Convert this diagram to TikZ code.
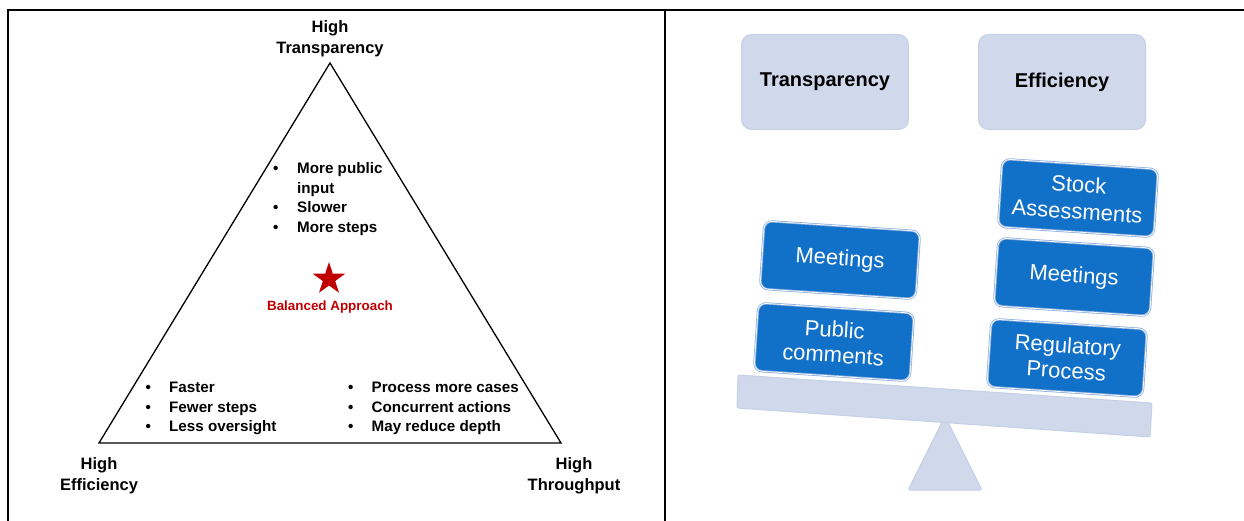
\documentclass[tikz,border=0pt]{standalone}
\usepackage{fontspec}
\setmainfont{Liberation Sans}
\usetikzlibrary{shapes.geometric}
\definecolor{boxblue}{HTML}{1170C8}
\definecolor{boxrim}{HTML}{8DB0E0}
\definecolor{pale}{HTML}{D0D8EB}
\definecolor{paleedge}{HTML}{C6D0E6}
\definecolor{starred}{HTML}{C00000}
\newcommand{\lstxfont}{\bfseries\fontsize{15.2}{19.5}\selectfont}
\begin{document}
\begin{tikzpicture}[x=1pt,y=-1pt,
  frameline/.style={line width=2pt, black},
  tri/.style={line width=1.3pt, black, line join=miter},
  corner/.style={anchor=base, inner sep=0pt, font=\bfseries\fontsize{16.5}{21}\selectfont},
  bullets/.style={anchor=base west, inner sep=0pt, font=\lstxfont},
  blk/.style={draw=boxrim, line width=0.8pt, double=white, double distance=0.7pt,
    fill=boxblue, rounded corners=8pt, minimum width=156pt, minimum height=68pt,
    inner sep=0pt, rotate=-3.8, text=white, align=center,
    font=\fontsize{22}{25.5}\selectfont},
  palebox/.style={draw=paleedge, line width=1pt, fill=pale, rounded corners=10pt,
    minimum width=167pt, minimum height=95pt, inner sep=0pt,
    font=\bfseries\fontsize{20}{24}\selectfont},
  paleshape/.style={draw=paleedge, line width=1pt, fill=pale, rounded corners=2pt}]
\useasboundingbox (0,0) rectangle (1244,521);
% frame
\coordinate (f1) at (6.5,10);
\coordinate (f2) at (1244,10);
\coordinate (f3) at (7.5,9);
\coordinate (f4) at (7.5,521);
\coordinate (f5) at (665,10);
\coordinate (f6) at (665,521);
\draw[frameline] (f1) -- (f2);
\draw[frameline] (f3) -- (f4);
\draw[frameline] (f5) -- (f6);
% triangle
\coordinate (tA) at (330,63);
\coordinate (tB) at (99,443);
\coordinate (tC) at (561,443);
\draw[tri] (tA) -- (tB) -- (tC) -- cycle;
\node[corner] (ht) at (330,33) {\begin{tabular}[t]{@{}c@{}}High\\Transparency\end{tabular}};
\node[corner] (he) at (99,469) {\begin{tabular}[t]{@{}c@{}}High\\Efficiency\end{tabular}};
\node[corner] (hp) at (574,469) {\begin{tabular}[t]{@{}c@{}}High\\Throughput\end{tabular}};
\node[bullets] (lt) at (273,174) {\begin{tabular}[t]{@{}p{24pt}@{}l@{}}\textbullet & More public\\ & input\\ \textbullet & Slower\\ \textbullet & More steps\end{tabular}};
\node[bullets] (lb) at (145.5,392.5) {\begin{tabular}[t]{@{}p{23.5pt}@{}l@{}}\textbullet & Faster\\ \textbullet & Fewer steps\\ \textbullet & Less oversight\end{tabular}};
\node[bullets] (lr) at (348,392.5) {\begin{tabular}[t]{@{}p{23.5pt}@{}l@{}}\textbullet & Process more cases\\ \textbullet & Concurrent actions\\ \textbullet & May reduce depth\end{tabular}};
\node[star, star points=5, star point ratio=2.618, fill=starred, minimum size=34pt, inner sep=0pt] (st) at (329,279) {};
\node[anchor=base, inner sep=0pt, text=starred, font=\bfseries\fontsize{13.4}{15}\selectfont] (ba) at (330,310) {Balanced Approach};
% right panel
\node[palebox] (tr) at (825,82) {Transparency};
\node[palebox] (ef) at (1062,82) {Efficiency};
\coordinate (fa) at (945,416);
\coordinate (fb) at (982,490);
\coordinate (fc) at (908,490);
\draw[paleshape] (fa) -- (fb) -- (fc) -- cycle;
\coordinate (b1) at (738,375);
\coordinate (b2) at (1152,403);
\coordinate (b3) at (1150,437);
\coordinate (b4) at (737,408);
\draw[paleshape] (b1) -- (b2) -- (b3) -- (b4) -- cycle;
\node[blk] (lm) at (840,260) {Meetings};
\node[blk] (lp) at (834,342) {Public\\comments};
\node[blk, font=\fontsize{22}{27}\selectfont] (rs) at (1078,198) {Stock\\Assessments};
\node[blk] (rm) at (1074,277) {Meetings};
\node[blk] (rr) at (1067,358) {Regulatory\\Process};
\end{tikzpicture}
\end{document}
